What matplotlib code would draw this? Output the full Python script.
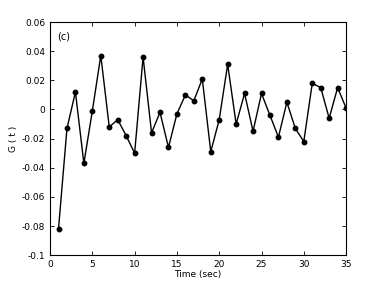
import matplotlib
matplotlib.use("Agg")
import matplotlib.pyplot as plt

time_sec = list(range(1, 36))
g_values = [-0.082, -0.013, 0.012, -0.037, -0.001, 0.037, -0.012, -0.007, -0.018, -0.030,
            0.036, -0.016, -0.002, -0.026, -0.003, 0.010, 0.006, 0.021, -0.029, -0.007,
            0.031, -0.010, 0.011, -0.015, 0.011, -0.004, -0.019, 0.005, -0.013, -0.022,
            0.018, 0.015, -0.006, 0.015, 0.001]
x_ticks = [0, 5, 10, 15, 20, 25, 30, 35]
y_ticks = [-0.1, -0.08, -0.06, -0.04, -0.02, 0, 0.02, 0.04, 0.06]
y_tick_labels = ["-0.1", "-0.08", "-0.06", "-0.04", "-0.02", "0", "0.02", "0.04", "0.06"]

plt.rcParams['font.family'] = ['DejaVu Sans']
fig = plt.figure(figsize=(3.82, 2.87), dpi=100)
ax = fig.add_axes([0.131, 0.111, 0.775, 0.812])
ax.plot(time_sec, g_values, color='black', linewidth=1.0, marker='o', markersize=3.2)
ax.set_xlim(0, 35)
ax.set_ylim(-0.1, 0.06)
ax.set_xticks(x_ticks)
ax.set_yticks(y_ticks)
ax.set_yticklabels(y_tick_labels)
ax.tick_params(direction='in', length=3, labelsize=6.5, top=True, right=True, width=0.6)
for s in ax.spines.values():
    s.set_linewidth(0.8)
ax.set_xlabel('Time (sec)', fontsize=6.5, labelpad=1)
ax.set_ylabel('G ( t )', fontsize=6.5, labelpad=3)
ax.text(0.025, 0.96, '(c)', transform=ax.transAxes, fontsize=7, va='top', ha='left')
fig.savefig('out.png', dpi=100)
